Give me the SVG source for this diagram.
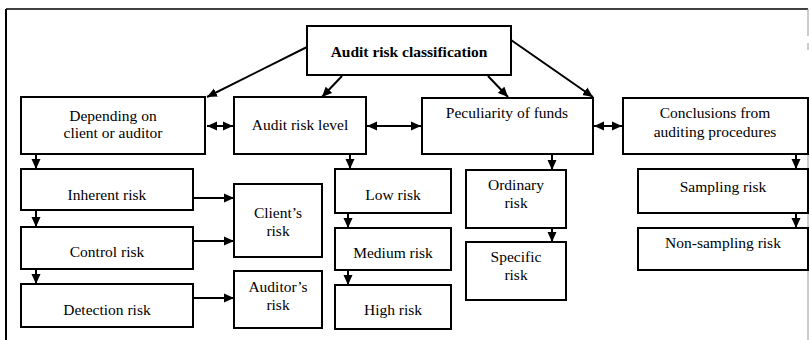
<svg xmlns="http://www.w3.org/2000/svg" width="809" height="340" viewBox="0 0 809 340">
<style>
.box{fill:#fff;stroke:#000;stroke-width:2}
.t{font-family:"Liberation Serif","Times New Roman",serif;font-size:15.5px;fill:#000;text-anchor:middle}
.b{font-weight:bold;font-size:15.5px}
.c{stroke:#000;stroke-width:2;fill:none}
</style>
<defs>
<marker id="ah" markerUnits="userSpaceOnUse" markerWidth="10" markerHeight="10" viewBox="0 0 10 10" refX="10" refY="5" orient="auto-start-reverse">
<path d="M0,0.5 L10,5 L0,9.5 z" fill="#000"/>
</marker>
</defs>
<rect width="809" height="340" fill="#fff"/>
<g id="frame">
<line x1="6" y1="9" x2="6" y2="340" stroke="#000" stroke-width="2"/>
<line x1="6" y1="9" x2="808" y2="9" stroke="#000" stroke-width="1.5"/>
<line x1="808" y1="9" x2="808" y2="36" stroke="#999" stroke-width="1"/>
<line x1="808" y1="43" x2="808" y2="50" stroke="#999" stroke-width="1"/>
<line x1="808" y1="154" x2="808" y2="340" stroke="#999" stroke-width="1"/>
</g>
<g id="connectors">
<line class="c" x1="307" y1="47" x2="207" y2="97" marker-end="url(#ah)"/>
<line class="c" x1="342" y1="76" x2="322" y2="97" marker-end="url(#ah)"/>
<line class="c" x1="488" y1="76" x2="508" y2="97" marker-end="url(#ah)"/>
<line class="c" x1="511" y1="40" x2="593" y2="97" marker-end="url(#ah)"/>
<line class="c" x1="207" y1="126" x2="233" y2="126" marker-start="url(#ah)" marker-end="url(#ah)"/>
<line class="c" x1="367" y1="126" x2="421" y2="126" marker-start="url(#ah)" marker-end="url(#ah)"/>
<line class="c" x1="594" y1="126" x2="622" y2="126" marker-start="url(#ah)" marker-end="url(#ah)"/>
<line class="c" x1="36" y1="154" x2="36" y2="169" marker-end="url(#ah)"/>
<line class="c" x1="36" y1="210" x2="36" y2="227" marker-end="url(#ah)"/>
<line class="c" x1="36" y1="269" x2="36" y2="284" marker-end="url(#ah)"/>
<line class="c" x1="350" y1="154" x2="350" y2="169" marker-end="url(#ah)"/>
<line class="c" x1="348" y1="213" x2="348" y2="228" marker-end="url(#ah)"/>
<line class="c" x1="348" y1="270" x2="348" y2="285" marker-end="url(#ah)"/>
<line class="c" x1="552" y1="154" x2="552" y2="170" marker-end="url(#ah)"/>
<line class="c" x1="552" y1="228" x2="552" y2="242" marker-end="url(#ah)"/>
<line class="c" x1="796" y1="154" x2="796" y2="169" marker-end="url(#ah)"/>
<line class="c" x1="796" y1="213" x2="796" y2="228" marker-end="url(#ah)"/>
<line class="c" x1="193" y1="198" x2="234" y2="198" marker-end="url(#ah)"/>
<line class="c" x1="193" y1="241" x2="234" y2="241" marker-end="url(#ah)"/>
<line class="c" x1="193" y1="298" x2="234" y2="298" marker-end="url(#ah)"/>
</g>
<g id="n-top"><rect class="box" x="307" y="26" width="204" height="49"/><text class="t b" x="409" y="57">Audit risk classification</text></g>
<g id="n-depending"><rect class="box" x="21" y="97" width="184" height="57"/><text class="t" x="113" y="121">Depending on</text><text class="t" x="113" y="138">client or auditor</text></g>
<g id="n-level"><rect class="box" x="234" y="97" width="132" height="57"/><text class="t" x="300" y="130">Audit risk level</text></g>
<g id="n-funds"><rect class="box" x="422" y="98" width="171" height="56"/><text class="t" x="507" y="118">Peculiarity of funds</text></g>
<g id="n-conclusions"><rect class="box" x="623" y="98" width="185" height="56"/><text class="t" x="715" y="118">Conclusions from</text><text class="t" x="715" y="137">auditing procedures</text></g>
<g id="n-inherent"><rect class="box" x="21" y="169" width="172" height="41"/><text class="t" x="107" y="200">Inherent risk</text></g>
<g id="n-control"><rect class="box" x="21" y="227" width="172" height="42"/><text class="t" x="107" y="257">Control risk</text></g>
<g id="n-detection"><rect class="box" x="21" y="284" width="172" height="43"/><text class="t" x="107" y="315">Detection risk</text></g>
<g id="n-client"><rect class="box" x="234" y="184" width="88" height="73"/><text class="t" x="278" y="218">Client’s</text><text class="t" x="278" y="236">risk</text></g>
<g id="n-auditor"><rect class="box" x="234" y="271" width="88" height="57"/><text class="t" x="278" y="292">Auditor’s</text><text class="t" x="278" y="310">risk</text></g>
<g id="n-low"><rect class="box" x="335" y="169" width="116" height="44"/><text class="t" x="393" y="200">Low risk</text></g>
<g id="n-medium"><rect class="box" x="335" y="228" width="116" height="42"/><text class="t" x="393" y="258">Medium risk</text></g>
<g id="n-high"><rect class="box" x="335" y="285" width="116" height="44"/><text class="t" x="393" y="315">High risk</text></g>
<g id="n-ordinary"><rect class="box" x="466" y="170" width="100" height="58"/><text class="t" x="516" y="190">Ordinary</text><text class="t" x="516" y="208">risk</text></g>
<g id="n-specific"><rect class="box" x="466" y="242" width="100" height="58"/><text class="t" x="516" y="262">Specific</text><text class="t" x="516" y="280">risk</text></g>
<g id="n-sampling"><rect class="box" x="638" y="169" width="170" height="44"/><text class="t" x="723" y="192">Sampling risk</text></g>
<g id="n-nonsampling"><rect class="box" x="638" y="228" width="170" height="42"/><text class="t" x="723" y="248">Non-sampling risk</text></g>
</svg>
